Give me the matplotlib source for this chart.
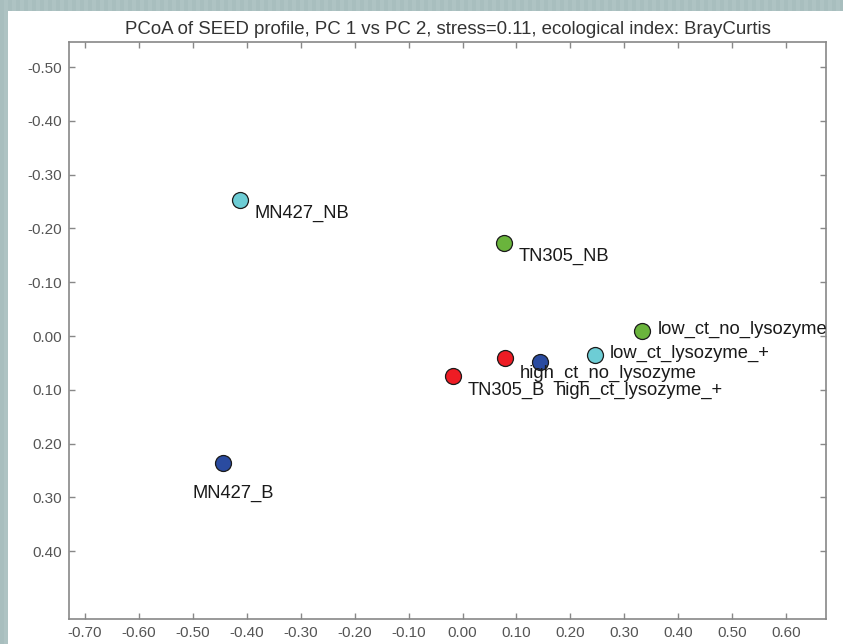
import numpy as np
import matplotlib
matplotlib.use('Agg')
from matplotlib import pyplot as plt
from matplotlib.patches import Rectangle

plt.rcParams['font.family'] = ['Liberation Sans', 'DejaVu Sans']

# sample coordinates on the first two principal coordinates
samples = ['MN427_NB', 'TN305_NB', 'low_ct_no_lysozyme', 'low_ct_lysozyme_+',
           'high_ct_no_lysozyme', 'high_ct_lysozyme_+', 'TN305_B', 'MN427_B']
pc1 = [-0.413, 0.077, 0.333, 0.246, 0.079, 0.144, -0.018, -0.444]
pc2 = [-0.253, -0.173, -0.009, 0.036, 0.041, 0.049, 0.075, 0.236]
groups = ['cyan', 'green', 'green', 'cyan', 'red', 'blue', 'red', 'blue']

xticks = [-0.70, -0.60, -0.50, -0.40, -0.30, -0.20, -0.10, 0.00, 0.10, 0.20, 0.30, 0.40, 0.50, 0.60]
yticks = [-0.50, -0.40, -0.30, -0.20, -0.10, 0.00, 0.10, 0.20, 0.30, 0.40]

colors = {'red': '#ee1c24', 'green': '#6ab43c', 'cyan': '#6dcdd5', 'blue': '#2a4ba0'}
# label placement (pixels from the marker centre)
offsets = [(15, -14), (15, -13), (16, 2), (15, 2), (15, -15), (16, -28), (15, -14), (-31, -30)]

W, H = 843, 644
fig = plt.figure(figsize=(W / 100, H / 100), dpi=100)
fig.patch.set_facecolor('#aec3c3')

# striped frame band and white panel
for i in range(0, W, 8):
    fig.patches.append(Rectangle((i / W, 0), 4 / W, 1, transform=fig.transFigure,
                                 facecolor='#a8bebe', edgecolor='none', zorder=0))
fig.patches.append(Rectangle((8 / W, 0), 1, 1 - 11 / H, transform=fig.transFigure,
                             facecolor='white', edgecolor='none', zorder=1))

ax = fig.add_axes([69 / W, 1 - 619 / H, (826 - 69) / W, (619 - 42) / H])
ax.set_zorder(2)

for x, y, g in zip(pc1, pc2, groups):
    ax.plot(x, y, 'o', ms=11.5, mfc=colors[g], mec='#1a1a1a', mew=0.9)

for name, x, y, off in zip(samples, pc1, pc2, offsets):
    ax.annotate(name, (x, y), xytext=off, textcoords='offset pixels',
                ha='left', va='center', fontsize=13.2, color='#1a1a1a')

ax.set_xlim(-0.7297, 0.674)
ax.set_ylim(0.526, -0.5465)
ax.set_xticks(xticks)
ax.set_yticks(yticks)
ax.set_xticklabels(['%.2f' % v for v in xticks])
ax.set_yticklabels(['%.2f' % v for v in yticks])
ax.tick_params(direction='in', length=4, width=1, color='#888888',
               labelcolor='#555555', labelsize=11, top=True, right=True, pad=5)
for s in ax.spines.values():
    s.set_color('#888888')
    s.set_linewidth(1.2)

ax.set_title('PCoA of SEED profile, PC 1 vs PC 2, stress=0.11, ecological index: BrayCurtis',
             fontsize=13.4, color='#333333', pad=6)

fig.savefig('out.png', dpi=100)
